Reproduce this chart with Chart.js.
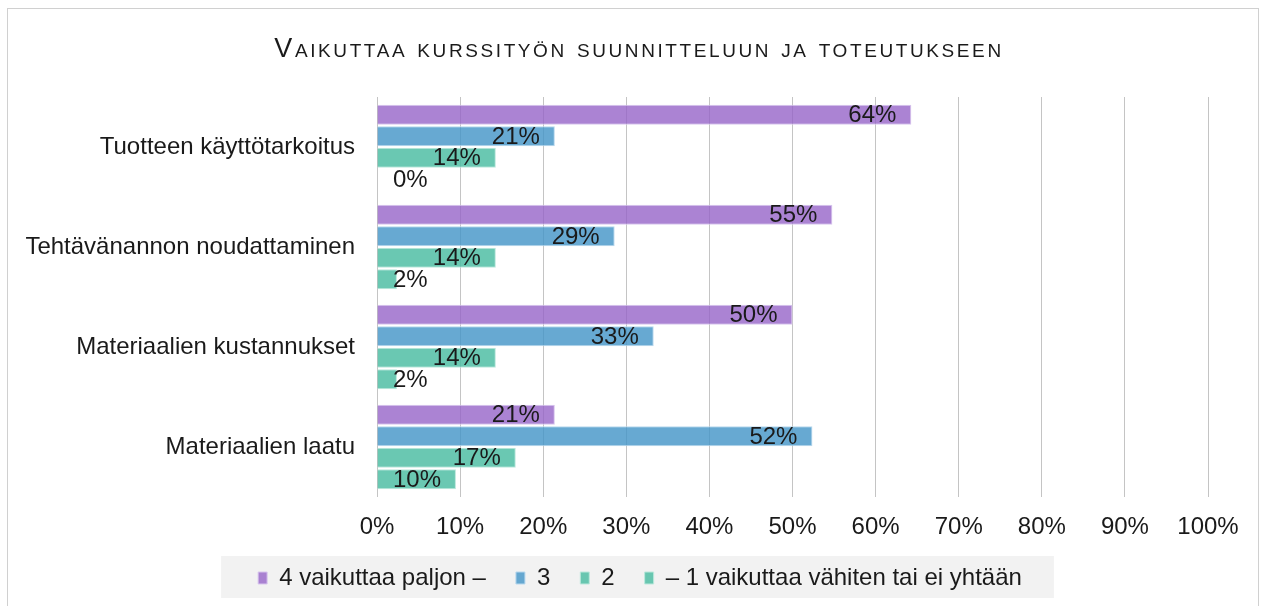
<!DOCTYPE html>
<html>
<head>
<meta charset="utf-8">
<script src="https://cdn.jsdelivr.net/npm/chart.js@4.4.1/dist/chart.umd.min.js"></script>
<style>
  body { margin: 0; background: #fff; }
  canvas { display: block; }
</style>
</head>
<body>
<canvas id="vaikutusChart" width="1266" height="606"></canvas>
<script>
var chartTitle = 'Vaikuttaa kurssityön suunnitteluun ja toteutukseen';
var categories = ['Tuotteen käyttötarkoitus', 'Tehtävänannon noudattaminen', 'Materiaalien kustannukset', 'Materiaalien laatu'];
var seriesNames = ['4 vaikuttaa paljon –', '3', '2', '– 1 vaikuttaa vähiten tai ei yhtään'];
var paljon = [64.3, 54.8, 50.0, 21.4];
var kolme = [21.4, 28.6, 33.3, 52.4];
var kaksi = [14.3, 14.3, 14.3, 16.7];
var vahiten = [0, 2.4, 2.4, 9.5];
var tickLabels = ['0%', '10%', '20%', '30%', '40%', '50%', '60%', '70%', '80%', '90%', '100%'];

var FONT = '"Liberation Sans", Arial, sans-serif';
var TEXT = '#1a1a1a';
var LEGEND_SHIFT = 36;

// frame, title and grey legend background
var decorPlugin = {
    id: 'decor',
    afterUpdate: function(chart) {
        // legend sits a bit right of the plot centre, like in the original
        var lg = chart.legend;
        lg.left += LEGEND_SHIFT;
        lg.right += LEGEND_SHIFT;
        lg.legendHitBoxes.forEach(function(b) { b.left += LEGEND_SHIFT; });
    },
    beforeDraw: function(chart) {
        var ctx = chart.ctx;
        ctx.save();
        ctx.strokeStyle = '#d0d0d0';
        ctx.lineWidth = 1;
        ctx.strokeRect(7.5, 8.5, 1251, 620);

        var boxes = chart.legend.legendHitBoxes;
        if (boxes && boxes.length) {
            var first = boxes[0], last = boxes[boxes.length - 1];
            var mid = first.top + first.height / 2;
            ctx.fillStyle = '#f2f2f2';
            ctx.fillRect(first.left - 37, mid - 22, (last.left + last.width + 32) - (first.left - 37), 42);
        }

        ctx.fillStyle = TEXT;
        ctx.textBaseline = 'alphabetic';
        ctx.textAlign = 'center';
        ctx.font = '27px ' + FONT;
        ctx.fontVariantCaps = 'small-caps';
        ctx.letterSpacing = '2.6px';
        ctx.fillText(chartTitle, 639, 57);
        ctx.restore();
    }
};

// value labels at the inner end of each bar
var labelPlugin = {
    id: 'barLabels',
    afterDatasetsDraw: function(chart) {
        var ctx = chart.ctx;
        var left = chart.chartArea.left;
        ctx.save();
        ctx.font = '24px ' + FONT;
        ctx.fillStyle = TEXT;
        ctx.textAlign = 'right';
        ctx.textBaseline = 'middle';
        chart.data.datasets.forEach(function(ds, i) {
            chart.getDatasetMeta(i).data.forEach(function(bar, j) {
                var txt = Math.round(ds.data[j]) + '%';
                var w = ctx.measureText(txt).width;
                var x = Math.max(bar.x - 15, left + 16 + w);
                ctx.fillText(txt, x, bar.y + 1);
            });
        });
        ctx.restore();
    }
};

var ctx = document.getElementById('vaikutusChart').getContext('2d');
var vaikutusChart = new Chart(ctx, {
    type: 'bar',
    data: {
        labels: categories,
        datasets: [
            { label: seriesNames[0], data: paljon, backgroundColor: 'rgba(150, 100, 200, 0.8)', borderColor: '#d8c6ee', borderWidth: 1 },
            { label: seriesNames[1], data: kolme, backgroundColor: 'rgba(70, 150, 200, 0.82)', borderColor: '#b8d8ee', borderWidth: 1 },
            { label: seriesNames[2], data: kaksi, backgroundColor: 'rgba(80, 190, 165, 0.85)', borderColor: '#bce8dc', borderWidth: 1 },
            { label: seriesNames[3], data: vahiten, backgroundColor: 'rgba(80, 190, 165, 0.85)', borderColor: '#bce8dc', borderWidth: 1 }
        ]
    },
    options: {
        indexAxis: 'y',
        responsive: false,
        animation: false,
        categoryPercentage: 0.86,
        barPercentage: 0.93,
        layout: { padding: { top: 97, right: 58, left: 0, bottom: 6 } },
        scales: {
            x: {
                min: 0,
                max: 100,
                ticks: {
                    stepSize: 10,
                    color: TEXT,
                    font: { family: FONT, size: 24 },
                    padding: 16,
                    callback: function(value, index) {
                        return tickLabels[index];
                    }
                },
                grid: { color: '#c4c4c4', drawTicks: false },
                border: { display: false },
                afterFit: function(scale) {
                    scale.height = 39;
                }
            },
            y: {
                ticks: {
                    color: TEXT,
                    font: { family: FONT, size: 24 },
                    padding: 22
                },
                grid: { display: false, drawTicks: false },
                border: { display: false },
                afterFit: function(scale) {
                    scale.width = 377;
                }
            }
        },
        plugins: {
            legend: {
                position: 'bottom',
                labels: {
                    boxWidth: 9,
                    boxHeight: 12,
                    color: TEXT,
                    font: { family: FONT, size: 24 },
                    padding: 30
                }
            },
            tooltip: { enabled: false }
        }
    },
    plugins: [decorPlugin, labelPlugin]
});
</script>
</body>
</html>
